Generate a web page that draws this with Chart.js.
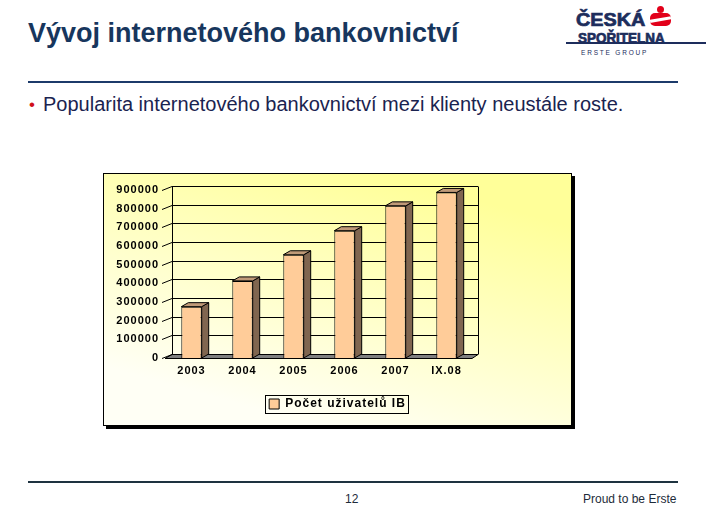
<!DOCTYPE html>
<html lang="cs">

<head>
    <meta charset="UTF-8">
    <title>Vývoj internetového bankovnictví</title>
    <script src="https://cdn.jsdelivr.net/npm/chart.js"></script>
</head>

<body>

    <style>
        * {
            margin: 0;
            padding: 0;
            box-sizing: border-box;
        }

        body {
            width: 706px;
            height: 529px;
            position: relative;
            background: #fff;
            font-family: Arial, 'Liberation Sans', sans-serif;
            overflow: hidden;
        }

        .abs {
            position: absolute;
            white-space: nowrap;
        }

        #title {
            left: 28px;
            top: 20px;
            font-size: 27px;
            line-height: 27px;
            font-weight: bold;
            color: #17365d;
        }

        .rule {
            left: 28px;
            width: 650px;
            height: 2px;
        }

        #bullet {
            left: 29px;
            top: 95px;
            font-size: 17px;
            line-height: 20px;
            color: #d0101a;
        }

        #lead {
            left: 43px;
            top: 94px;
            font-size: 20px;
            line-height: 20px;
            color: #1a2350;
        }

        .foot {
            top: 493px;
            font-size: 12px;
            line-height: 12px;
            color: #1d2b3a;
        }

        .logo {
            font-weight: bold;
            color: #1d2d5c;
            transform-origin: left top;
        }

        .heavy {
            -webkit-text-stroke: 0.7px #1d2d5c;
        }

        #frame {
            left: 103px;
            top: 173px;
            width: 469px;
            height: 253px;
            border: 1px solid #000;
            box-shadow: 3px 3px 0 #000;
        }

        #frame canvas {
            display: block;
        }
    </style>

    <div class="abs" id="title">Vývoj internetového bankovnictví</div>

    <!-- logo -->
    <div class="abs" style="left:566px;top:42px;width:140px;height:2px;background:#1d2d5c"></div>
    <div class="abs logo heavy" style="left:576px;top:11px;font-size:18px;line-height:18px;transform:scaleX(1.1)">ČESKÁ</div>
    <div class="abs logo heavy" style="left:578px;top:31px;font-size:14px;line-height:14px;transform:scaleX(0.96)">SPOŘITELNA</div>
    <div class="abs logo" style="left:581px;top:49px;font-size:6.5px;line-height:7px;font-weight:normal;letter-spacing:1.8px">ERSTE GROUP</div>
    <div class="abs" style="left:657px;top:6px;width:7px;height:7px;border-radius:50%;background:#e2001a"></div>
    <div class="abs" style="left:650px;top:13px;width:21px;height:13px;border-radius:5px;background:#e2001a;overflow:hidden">
        <div style="position:absolute;left:-2px;top:5px;width:25px;height:2.5px;background:#fff;transform:rotate(-10deg)"></div>
    </div>

    <div class="abs rule" style="top:81px;background:#1c3a6a"></div>
    <div class="abs" id="bullet">•</div>
    <div class="abs" id="lead">Popularita internetového bankovnictví mezi klienty neustále roste.</div>

    <div class="abs" id="frame">
        <canvas id="divBarChart" width="467" height="251"></canvas>
    </div>

    <div class="abs rule" style="top:481px;background:#1e3340"></div>
    <div class="abs foot" style="left:345px">12</div>
    <div class="abs foot" style="left:583px">Proud to be Erste</div>

    <script>
        // data
        const obdobi = ["2003", "2004", "2005", "2006", "2007", "IX.08"];
        const uzivateleIB = [275000, 413000, 553000, 682000, 815000, 887000];
        const yTickLabels = ["0", "100000", "200000", "300000", "400000", "500000",
            "600000", "700000", "800000", "900000"];
        const nazevRady = "Počet uživatelů IB";

        const pismo = "Arial, 'Liberation Sans', sans-serif";

        // fake 3D: walls, floor and bar sides drawn around the chart.js bars
        const hloubka = {
            id: 'hloubka',
            beforeUpdate(chart) {
                chart.ctx.letterSpacing = '1px';
            },
            beforeDraw(chart) {
                const { ctx, width, height } = chart;
                ctx.letterSpacing = '1px';
                const g = ctx.createLinearGradient(width * 0.6, 0, width * 0.45, height);
                g.addColorStop(0, '#ffff99');
                g.addColorStop(1, '#fffff5');
                ctx.save();
                ctx.fillStyle = g;
                ctx.fillRect(0, 0, width, height);
                ctx.restore();
            },
            beforeDatasetsDraw(chart) {
                const { ctx, chartArea: a, scales: { y } } = chart;
                const dx = 6, dy = -4;
                ctx.save();
                ctx.strokeStyle = '#000';
                ctx.lineWidth = 1;

                // floor
                const b = Math.round(a.bottom) + 0.5;
                ctx.beginPath();
                ctx.moveTo(a.left - 1, b);
                ctx.lineTo(a.right, b);
                ctx.lineTo(a.right + dx, b + dy);
                ctx.lineTo(a.left + dx, b + dy);
                ctx.closePath();
                ctx.fillStyle = '#808080';
                ctx.fill();
                ctx.stroke();

                // back wall grid and side wall ticks
                y.ticks.forEach(t => {
                    const py = Math.round(y.getPixelForValue(t.value)) + 0.5;
                    ctx.beginPath();
                    if (t.value > 0) {
                        ctx.moveTo(a.left + dx, py + dy);
                        ctx.lineTo(a.right + dx, py + dy);
                    }
                    ctx.moveTo(a.left - 4, py);
                    ctx.lineTo(a.left + dx, py + dy);
                    ctx.stroke();
                });

                const top = Math.round(y.getPixelForValue(y.max)) + 0.5 + dy;
                ctx.beginPath();
                ctx.moveTo(Math.round(a.left + dx) + 0.5, top);
                ctx.lineTo(Math.round(a.left + dx) + 0.5, b + dy);
                ctx.moveTo(Math.round(a.right + dx) + 0.5, top);
                ctx.lineTo(Math.round(a.right + dx) + 0.5, b + dy);
                ctx.stroke();
                ctx.restore();
            },
            afterDatasetsDraw(chart) {
                const { ctx } = chart;
                const dx = 7, dy = -4;
                ctx.save();
                ctx.strokeStyle = '#000';
                ctx.lineWidth = 1;
                chart.getDatasetMeta(0).data.forEach(bar => {
                    const { x, y, base, width } = bar.getProps(['x', 'y', 'base', 'width'], true);
                    const l = x - width / 2, r = x + width / 2;
                    // side
                    ctx.beginPath();
                    ctx.moveTo(r, y);
                    ctx.lineTo(r + dx, y + dy);
                    ctx.lineTo(r + dx, base + dy);
                    ctx.lineTo(r, base);
                    ctx.closePath();
                    ctx.fillStyle = '#806650';
                    ctx.fill();
                    ctx.stroke();
                    // top
                    ctx.beginPath();
                    ctx.moveTo(l, y);
                    ctx.lineTo(l + dx, y + dy);
                    ctx.lineTo(r + dx, y + dy);
                    ctx.lineTo(r, y);
                    ctx.closePath();
                    ctx.fillStyle = '#c09a78';
                    ctx.fill();
                    ctx.stroke();
                });
                ctx.restore();
            },
            afterDraw(chart) {
                const hb = chart.legend && chart.legend.legendHitBoxes[0];
                if (!hb) return;
                const { ctx } = chart;
                ctx.save();
                ctx.strokeStyle = '#000';
                ctx.lineWidth = 1;
                ctx.strokeRect(Math.round(hb.left - 4) + 0.5, Math.round(hb.top - 3) + 0.5,
                    Math.round(hb.width + 6), hb.height + 6);
                ctx.restore();
            }
        };

        function nakreslitGraf() {
            const ctx = document.getElementById('divBarChart');
            new Chart(ctx, {
                type: 'bar',
                data: {
                    labels: obdobi,
                    datasets: [{
                        label: nazevRady,
                        data: uzivateleIB,
                        backgroundColor: '#ffcc99',
                        borderColor: '#000',
                        borderWidth: 1,
                        barPercentage: 0.4,
                        categoryPercentage: 1
                    }]
                },
                options: {
                    responsive: false,
                    animation: false,
                    layout: {
                        padding: { top: 16, left: 0, right: 0, bottom: 5 }
                    },
                    plugins: {
                        tooltip: { enabled: false },
                        legend: {
                            position: 'bottom',
                            labels: {
                                boxWidth: 10,
                                boxHeight: 10,
                                padding: 4,
                                color: '#000',
                                font: { family: pismo, size: 12, weight: 'bold' }
                            }
                        }
                    },
                    scales: {
                        x: {
                            grid: { display: false, drawTicks: false },
                            border: { display: false },
                            ticks: {
                                color: '#000',
                                padding: 6,
                                maxRotation: 0,
                                font: { family: pismo, size: 11, weight: 'bold' }
                            },
                            afterFit(s) { s.height = 36; }
                        },
                        y: {
                            min: 0,
                            max: 900000,
                            grid: { display: false, drawTicks: false },
                            border: { display: false },
                            ticks: {
                                stepSize: 100000,
                                color: '#000',
                                padding: 7,
                                font: { family: pismo, size: 11, weight: 'bold' },
                                callback: (v, i) => yTickLabels[i]
                            },
                            afterFit(s) { s.width = 62; }
                        },
                        y2: {
                            position: 'right',
                            grid: { display: false, drawTicks: false },
                            border: { display: false },
                            ticks: { display: false },
                            afterFit(s) { s.width = 99; }
                        }
                    }
                },
                plugins: [hloubka]
            });
        }

        window.onload = () => {
            nakreslitGraf();
        }
    </script>

</body>

</html>
